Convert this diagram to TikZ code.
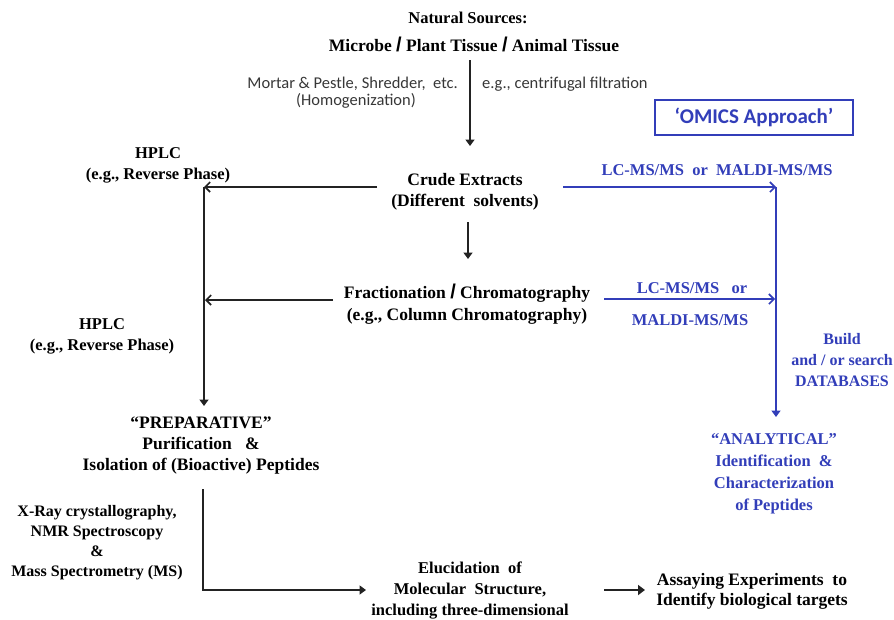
\documentclass[tikz,border=0pt]{standalone}
\usepackage{fontspec}
\setmainfont{Liberation Serif}
\newfontfamily\calfont{Carlito}
\newfontfamily\slashfont{Liberation Sans}
\usetikzlibrary{arrows.meta}
\definecolor{omicsblue}{RGB}{50,62,185}
\definecolor{notegray}{RGB}{55,55,55}
\definecolor{linegray}{RGB}{35,35,35}
\tikzset{
  lbl/.style={font=\bfseries\fontsize{16.5}{21}\selectfont, align=center, inner sep=0pt, text=black},
  biglbl/.style={lbl, font=\bfseries\fontsize{17.5}{21}\selectfont},
  bluelbl/.style={lbl, text=omicsblue},
  note/.style={font=\calfont\fontsize{16.5}{18}\selectfont, inner sep=0pt, text=notegray, align=center},
  flow/.style={line width=1.8pt, draw=linegray},
  solidtip/.style={-{Triangle[length=6.5pt,width=9pt]}},
  opentip/.style={-{Straight Barb[length=5pt,width=10pt,line width=1.6pt]}},
  bluef/.style={line width=1.8pt, draw=omicsblue},
}
\newcommand{\bigslash}{{\slashfont\bfseries\fontsize{20}{20}\selectfont /}}
\begin{document}
\begin{tikzpicture}[x=1pt,y=-1pt]
\useasboundingbox (0,0) rectangle (894,619);

% sources and homogenisation
\node[lbl] (src1) at (468,18) {Natural Sources:};
\node[biglbl] (src2) at (474,44) {Microbe \bigslash{} Plant Tissue \bigslash{} Animal Tissue};
\node[note, anchor=east] (mortar) at (458,84) {Mortar \& Pestle, Shredder,\ \ etc.};
\node[note] (homog) at (356,101) {(Homogenization)};
\node[note, anchor=west] (centri) at (482,84) {e.g., centrifugal filtration};

% OMICS label
\node[draw=omicsblue, line width=1.4pt, minimum width=198pt, minimum height=35pt, inner sep=0pt,
      font=\calfont\bfseries\fontsize{21}{22}\selectfont, text=omicsblue] (omics) at (754,117.5) {‘OMICS Approach’};

% central column
\node[biglbl] (crude) at (465,192) {Crude Extracts\\(Different\ \ solvents)};
\node[biglbl, font=\bfseries\fontsize{17.5}{22}\selectfont] (fract) at (467,304) {Fractionation \bigslash{} Chromatography\\(e.g., Column Chromatography)};

% left column
\node[lbl] (hplcA) at (158,165.5) {HPLC\\(e.g., Reverse Phase)};
\node[lbl] (hplcB) at (102,336) {HPLC\\(e.g., Reverse Phase)};
\node[biglbl] (prep) at (201,446) {“PREPARATIVE”\\Purification\ \ \ \&\\Isolation of (Bioactive) Peptides};
\node[lbl, font=\bfseries\fontsize{16}{20}\selectfont] (xray) at (97,543) {X-Ray crystallography,\\NMR Spectroscopy\\\&\\Mass Spectrometry (MS)};

% bottom row
\node[lbl] (eluc) at (470,591) {Elucidation\ \ of\\Molecular\ \ Structure,\\including three-dimensional};
\node[lbl, font=\bfseries\fontsize{17.5}{20}\selectfont] (assay) at (752,591.5) {Assaying Experiments\ \ to\\Identify biological targets};

% right (analytical) column
\node[bluelbl] (lcms1) at (717,170) {LC-MS/MS\ \ or\ \ MALDI-MS/MS};
\node[bluelbl] (lcms2a) at (692,288) {LC-MS/MS\ \ \ or};
\node[bluelbl] (lcms2b) at (690,320) {MALDI-MS/MS};
\node[bluelbl, font=\bfseries\fontsize{16}{21}\selectfont] (db) at (842,360) {Build\\and / or search\\DATABASES};
\node[bluelbl, font=\bfseries\fontsize{16.5}{22}\selectfont] (anal) at (774,474) {“ANALYTICAL”\\Identification\ \ \&\\Characterization\\of Peptides};

% connector end points
\coordinate (topA) at (470,60);
\coordinate (topB) at (470,146);
\coordinate (crA) at (377,187);
\coordinate (crL) at (204,187);
\coordinate (prepTop) at (204,406);
\coordinate (crB) at (468,222);
\coordinate (frT) at (468,259);
\coordinate (frA) at (333,300);
\coordinate (frL) at (205,300);
\coordinate (crR) at (563,187);
\coordinate (blueCorner) at (776,187);
\coordinate (analTop) at (776,417);
\coordinate (frR) at (604,299);
\coordinate (frRend) at (775,299);
\coordinate (prepBot) at (203,489);
\coordinate (bendBL) at (203,590);
\coordinate (elucIn) at (366,590);
\coordinate (elucOut) at (604,590);
\coordinate (assayIn) at (645,590);

% black connectors
\draw[flow, solidtip] (topA) -- (topB);
\draw[flow, opentip] (crA) -- (crL);
\draw[flow, solidtip] (crL) -- (prepTop);
\draw[flow, solidtip] (crB) -- (frT);
\draw[flow, opentip] (frA) -- (frL);
\draw[flow, solidtip] (prepBot) -- (bendBL) -- (elucIn);
\draw[flow, line width=2.6pt, -{Triangle[length=7pt,width=10pt]}] (elucOut) -- (assayIn);

% blue connectors
\draw[bluef, opentip] (crR) -- (blueCorner);
\draw[bluef, solidtip] (blueCorner) -- (analTop);
\draw[bluef, opentip] (frR) -- (frRend);
\end{tikzpicture}
\end{document}
